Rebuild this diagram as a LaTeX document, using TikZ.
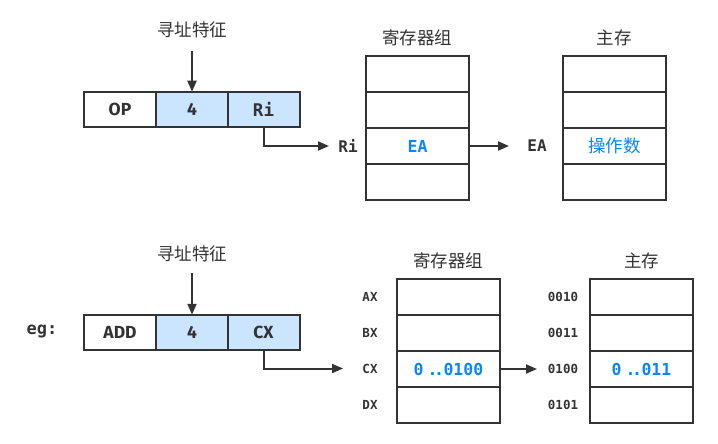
\documentclass[tikz,border=0pt]{standalone}
\usepackage{fontspec}
\setmainfont{Fira Sans}
\newfontfamily\cjk{Noto Sans CJK SC}
\newfontfamily\mono{DejaVu Sans Mono}
\usetikzlibrary{arrows.meta}
\definecolor{linec}{HTML}{333333}
\definecolor{cellblue}{HTML}{CCE5FF}
\definecolor{txtblue}{HTML}{0A84FF}
\tikzset{
  base/.style={draw=linec, line width=2pt, inner sep=0pt, outer sep=0pt},
  icell/.style={base, minimum width=72pt, minimum height=35.5pt,
     font=\bfseries\fontsize{17.5}{17.5}\selectfont, text=linec},
  bcell/.style={icell, fill=cellblue},
  rcell/.style={base, minimum width=103pt, minimum height=36pt},
  title/.style={inner sep=0pt, font=\cjk\fontsize{17.5}{17.5}\selectfont, text=linec},
  biglab/.style={inner sep=0pt, font=\mono\bfseries\fontsize{16}{16}\selectfont, text=linec},
  smlab/.style={inner sep=0pt, font=\mono\bfseries\fontsize{12.5}{12.5}\selectfont, text=linec},
  bluetxt/.style={text=txtblue, font=\mono\bfseries\fontsize{16.5}{16.5}\selectfont},
  bluecjk/.style={text=txtblue, font=\cjk\fontsize{17.5}{17.5}\selectfont},
  arr/.style={draw=linec, line width=2pt, -{Triangle[length=11pt,width=9pt]}},
}
\newcommand{\dd}{\kern4pt.\kern-3.5pt.\kern-0.5pt}
\begin{document}
\begin{tikzpicture}[x=1pt,y=-1pt]
\useasboundingbox (0,0) rectangle (718,444);
% ===== top =====
\node[title] (t1) at (192,30) {寻址特征};
\node[icell] (op) at (120,109.5) {OP};
\node[bcell] (f1) at (192,109.5) {4};
\node[bcell] (ri) at (263.5,109.5) {\mono Ri};
\coordinate (t1s) at (192,51);
\draw[arr] (t1s) -- (f1.north);
\node[biglab] (rilab) at (348,146) {Ri};
\coordinate (riend) at (329,146);
\draw[arr] (ri.south) |- (riend);
\node[title] (rg1t) at (417,38) {寄存器组};
\node[rcell] (r1a) at (417.5,74) {};
\node[rcell] (r1b) at (417.5,110) {};
\node[rcell] (r1c) at (417.5,146) {};
\node[rcell] (r1d) at (417.5,182) {};
\node[bluetxt] at (r1c) {EA};
\node[biglab] (ealab) at (537,146) {EA};
\coordinate (eaend) at (509,146);
\draw[arr] (r1c.east) -- (eaend);
\node[title] (m1t) at (614,38) {主存};
\node[rcell] (m1a) at (614.5,74) {};
\node[rcell] (m1b) at (614.5,110) {};
\node[rcell] (m1c) at (614.5,146) {};
\node[rcell] (m1d) at (614.5,182) {};
\node[bluecjk] at (m1c) {操作数};
% ===== bottom =====
\node[title] (t2) at (192,254) {寻址特征};
\node[biglab, font=\mono\bfseries\fontsize{17}{17}\selectfont] (eg) at (42,331) {eg:};
\node[icell] (add) at (120,332.5) {ADD};
\node[bcell] (f2) at (192,332.5) {4};
\node[bcell] (cx) at (263.5,332.5) {CX};
\coordinate (t2s) at (192,273);
\draw[arr] (t2s) -- (f2.north);
\coordinate (cxend) at (343,368.5);
\draw[arr] (cx.south) |- (cxend);
\node[title] (rg2t) at (448,261) {寄存器组};
\node[rcell] (r2a) at (448.5,297) {};
\node[rcell] (r2b) at (448.5,333) {};
\node[rcell] (r2c) at (448.5,369) {};
\node[rcell] (r2d) at (448.5,405) {};
\node[smlab] at (370,297) {AX};
\node[smlab] at (370,333) {BX};
\node[smlab] at (370,369) {CX};
\node[smlab] at (370,405) {DX};
\node[bluetxt] at (r2c) {0\dd0100};
\coordinate (r2end) at (537,369);
\draw[arr] (r2c.east) -- (r2end);
\node[title] (m2t) at (641.5,261) {主存};
\node[rcell] (m2a) at (641.5,297) {};
\node[rcell] (m2b) at (641.5,333) {};
\node[rcell] (m2c) at (641.5,369) {};
\node[rcell] (m2d) at (641.5,405) {};
\node[smlab] at (563,297) {0010};
\node[smlab] at (563,333) {0011};
\node[smlab] at (563,369) {0100};
\node[smlab] at (563,405) {0101};
\node[bluetxt] at (m2c) {0\dd011};
\end{tikzpicture}
\end{document}
